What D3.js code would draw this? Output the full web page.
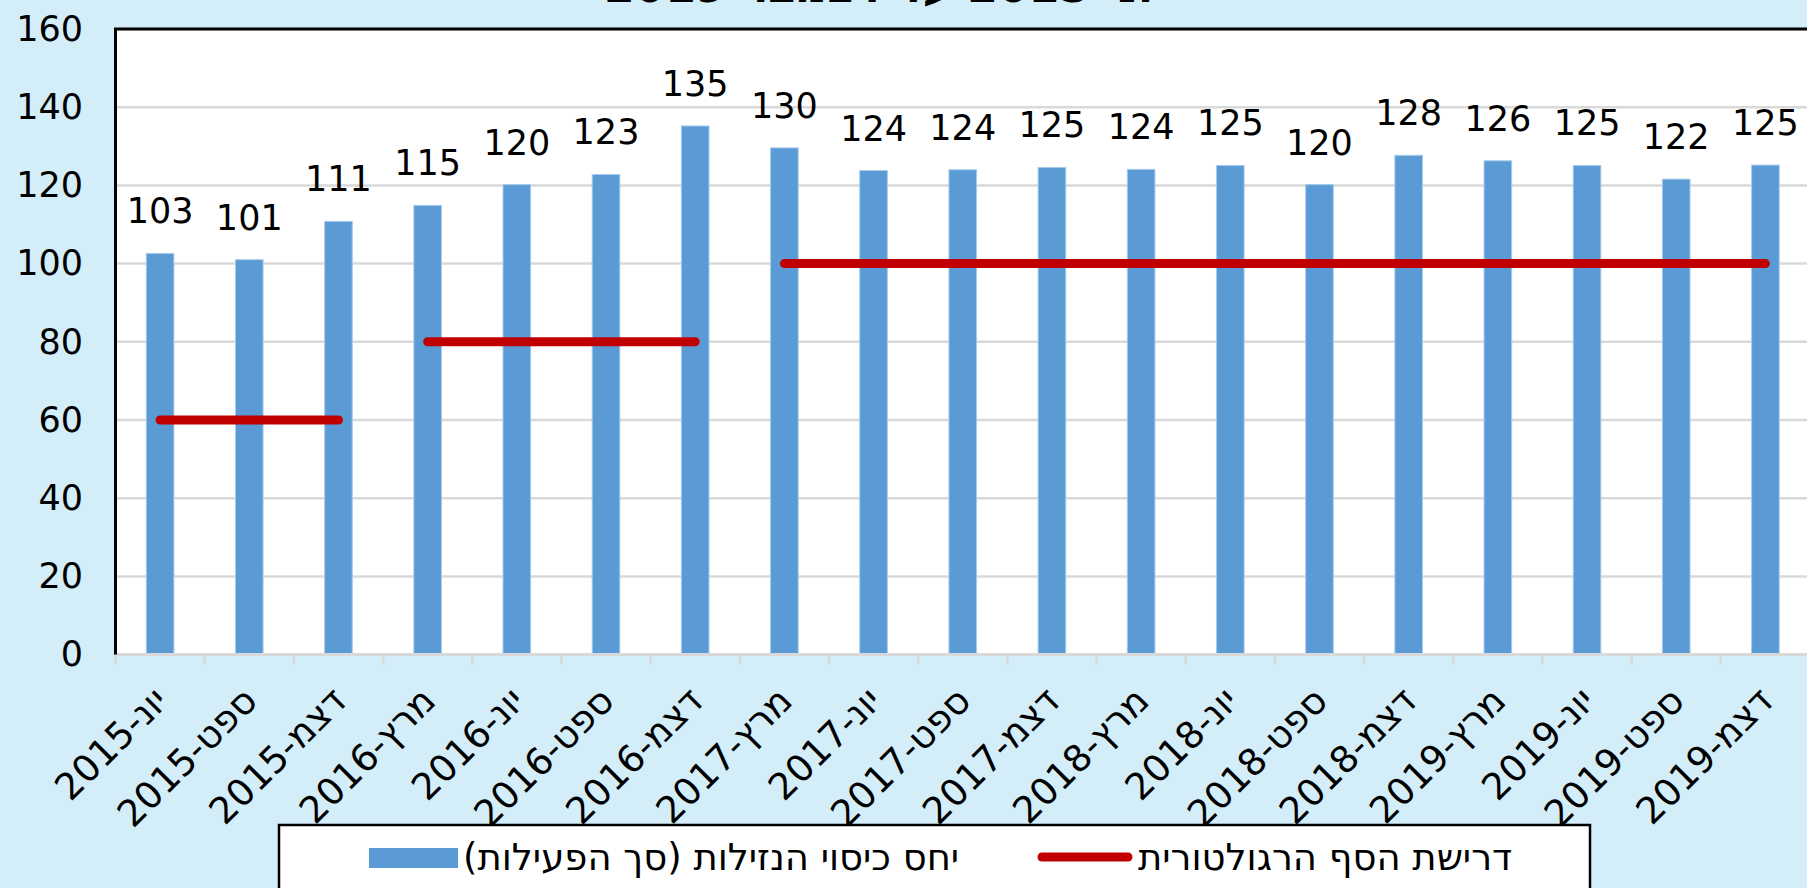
<!DOCTYPE html>
<html>
<head>
<meta charset="utf-8">
<script src="https://cdn.jsdelivr.net/npm/d3@7"></script>
<style>
  html, body { margin: 0; padding: 0; background: #D3EDF9; overflow: hidden; }
  text { font-family: "DejaVu Sans", sans-serif; fill: #000; }
</style>
</head>
<body>
<div id="chart"></div>
<script>

// quarters on the x axis
var categories = ["יונ-2015","ספט-2015","דצמ-2015","מרץ-2016","יונ-2016","ספט-2016","דצמ-2016",
                  "מרץ-2017","יונ-2017","ספט-2017","דצמ-2017","מרץ-2018","יונ-2018","ספט-2018",
                  "דצמ-2018","מרץ-2019","יונ-2019","ספט-2019","דצמ-2019"];

// liquidity coverage ratio (bars)
var lcrValues = [102.6, 101.0, 110.8, 114.9, 120.2, 122.8, 135.2, 129.6, 123.8, 124.0,
                 124.6, 124.1, 125.1, 120.2, 127.7, 126.3, 125.1, 121.6, 125.2];

// regulatory threshold (red line)
var thresholdValues = [60, 60, 60, 80, 80, 80, 80, 100, 100, 100, 100, 100, 100, 100,
                       100, 100, 100, 100, 100];

var yTicks = [0, 20, 40, 60, 80, 100, 120, 140, 160];

var seriesNames = ["יחס כיסוי הנזילות (סך הפעילות)", "דרישת הסף הרגולטורית"];
var titleText = "יוני 2015 עד דצמבר 2019";

var width = 1807, height = 888;
var plot = { left: 115.5, top: 29, right: 1810, bottom: 654.6 };

var svg = d3.select("#chart").append("svg")
    .attr("width", width)
    .attr("height", height);

svg.append("rect")
    .attr("width", width).attr("height", height)
    .attr("fill", "#D3EDF9");

// title, cut off at the top edge like in the source image
svg.append("text")
    .attr("x", 885).attr("y", 2)
    .attr("text-anchor", "middle")
    .attr("direction", "rtl")
    .style("font-size", "44px")
    .style("font-weight", "bold")
    .text(titleText);

svg.append("rect")
    .attr("x", plot.left).attr("y", plot.top)
    .attr("width", plot.right - plot.left).attr("height", plot.bottom - plot.top)
    .attr("fill", "#fff");

var x = d3.scaleBand()
    .domain(categories)
    .range([plot.left, plot.right])
    .paddingInner(0).paddingOuter(0);

var y = d3.scaleLinear()
    .domain([0, 160])
    .range([plot.bottom, plot.top]);

var barW = x.bandwidth() * 0.31;
function cx(d) { return x(d) + x.bandwidth() / 2; }

// grid
svg.append("g")
    .selectAll("line")
    .data(yTicks.filter(function(t) { return t > 0 && t < 160; }))
    .enter().append("line")
    .attr("x1", plot.left).attr("x2", plot.right)
    .attr("y1", function(d) { return y(d); })
    .attr("y2", function(d) { return y(d); })
    .attr("stroke", "#D9D9D9")
    .attr("stroke-width", 2.5);

// y axis labels
var yAxis = d3.axisLeft(y).tickValues(yTicks).tickSize(0).tickPadding(0);
var yAxisG = svg.append("g")
    .attr("transform", "translate(83,0)")
    .call(yAxis);
yAxisG.select(".domain").remove();
yAxisG.selectAll("text")
    .style("font-size", "35px")
    .style("font-family", "DejaVu Sans")
    .attr("fill", "#000");

// bars
svg.append("g")
    .selectAll("rect")
    .data(lcrValues)
    .enter().append("rect")
    .attr("x", function(d, i) { return cx(categories[i]) - barW / 2; })
    .attr("y", function(d) { return y(d); })
    .attr("width", barW)
    .attr("height", function(d) { return plot.bottom - y(d); })
    .attr("fill", "#5B9BD5")
    .attr("stroke", "#A8CBEC")
    .attr("stroke-width", 1);

// bar labels
var fmt = d3.format(".0f");
svg.append("g")
    .selectAll("text")
    .data(lcrValues)
    .enter().append("text")
    .attr("x", function(d, i) { return cx(categories[i]); })
    .attr("y", function(d) { return y(d) - 30; })
    .attr("text-anchor", "middle")
    .style("font-size", "35px")
    .text(function(d) { return fmt(d); });

// x axis: grey baseline + ticks at band edges
var xAxis = d3.axisBottom(x).tickSize(0).tickFormat("");
var xAxisG = svg.append("g")
    .attr("transform", "translate(0," + plot.bottom + ")")
    .call(xAxis);
xAxisG.select(".domain")
    .attr("d", "M" + (plot.left - 2) + ",0H" + plot.right)
    .attr("stroke", "#D9D9D9")
    .attr("stroke-width", 3);
xAxisG.selectAll(".tick").remove();
svg.append("g")
    .selectAll("line")
    .data(categories)
    .enter().append("line")
    .attr("x1", function(d) { return x(d); })
    .attr("x2", function(d) { return x(d); })
    .attr("y1", plot.bottom).attr("y2", plot.bottom + 10)
    .attr("stroke", "#D9D9D9")
    .attr("stroke-width", 2.5);

svg.append("g")
    .selectAll("text")
    .data(categories)
    .enter().append("text")
    .attr("transform", function(d) { return "translate(" + (cx(d) + 10) + ",703) rotate(-45)"; })
    .attr("text-anchor", "end")
    .style("font-size", "37px")
    .text(function(d) { return d; });

// threshold segments (consecutive equal values)
var segments = [];
thresholdValues.forEach(function(v, i) {
    var last = segments[segments.length - 1];
    if (last && last.value === v) last.points.push(i);
    else segments.push({ value: v, points: [i] });
});
var line = d3.line()
    .x(function(i) { return cx(categories[i]); })
    .y(function(i) { return y(thresholdValues[i]); });
svg.append("g")
    .selectAll("path")
    .data(segments)
    .enter().append("path")
    .attr("d", function(s) { return line(s.points); })
    .attr("fill", "none")
    .attr("stroke", "#C00000")
    .attr("stroke-width", 9)
    .attr("stroke-linecap", "round");

// plot frame (left and top)
svg.append("path")
    .attr("d", "M" + plot.left + "," + plot.bottom + "V" + plot.top + "H" + (plot.right + 5))
    .attr("fill", "none")
    .attr("stroke", "#000")
    .attr("stroke-width", 3);

// legend
var legend = svg.append("g");
legend.append("rect")
    .attr("x", 279).attr("y", 825)
    .attr("width", 1311).attr("height", 80)
    .attr("fill", "#fff")
    .attr("stroke", "#000")
    .attr("stroke-width", 2.5);
legend.append("rect")
    .attr("x", 369).attr("y", 848)
    .attr("width", 89).attr("height", 20)
    .attr("fill", "#5B9BD5");
legend.append("text")
    .attr("x", 463).attr("y", 870)
    .attr("direction", "rtl")
    .attr("text-anchor", "end")
    .style("font-size", "37px")
    .text(seriesNames[0]);
legend.append("line")
    .attr("x1", 1042).attr("x2", 1128)
    .attr("y1", 857).attr("y2", 857)
    .attr("stroke", "#C00000")
    .attr("stroke-width", 9)
    .attr("stroke-linecap", "round");
legend.append("text")
    .attr("x", 1138).attr("y", 870)
    .attr("direction", "rtl")
    .attr("text-anchor", "end")
    .style("font-size", "37px")
    .text(seriesNames[1]);

</script>
</body>
</html>
